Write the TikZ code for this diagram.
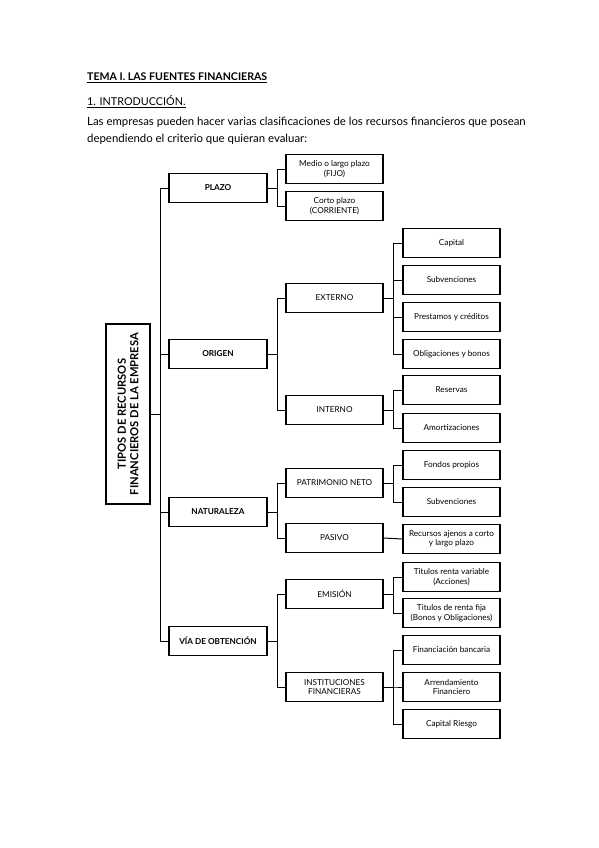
\documentclass[tikz,border=0pt]{standalone}
\usepackage{fontspec}
\setmainfont{Lato}
\begin{document}
\begin{tikzpicture}[x=1pt,y=-1pt,
  txt/.style={anchor=west,inner sep=0pt,font=\fontsize{11.4}{12}\selectfont},
  bx/.style={draw,line width=1.2pt,minimum height=29pt,align=center,inner sep=1pt,font=\fontsize{8.2}{9.5}\selectfont},
  lone/.style={bx,minimum width=98pt,font=\fontsize{8.2}{9.5}\selectfont\bfseries},
  ltwo/.style={bx,minimum width=97pt},
  lthree/.style={bx,minimum width=97pt},
  con/.style={line width=1pt}]
\useasboundingbox (0,0) rectangle (599,848);
\node[txt,font=\fontsize{10.6}{12}\selectfont\bfseries] (t1) at (87,78) {\underline{TEMA I. LAS FUENTES FINANCIERAS}};
\node[txt,font=\fontsize{10.8}{12}\selectfont] (t2) at (87,102) {\underline{1. INTRODUCCIÓN.}};
\node[txt] (t3) at (87,122) {Las empresas pueden hacer varias clasificaciones de los recursos financieros que posean};
\node[txt] (t4) at (87,139) {dependiendo el criterio que quieran evaluar:};

\node[draw,line width=1.2pt,rotate=90,minimum width=180pt,minimum height=44pt,align=center,font=\fontsize{11.2}{12.5}\selectfont\bfseries] (main) at (128,414) {TIPOS DE RECURSOS\\FINANCIEROS DE LA EMPRESA};

\node[lone] (plazo) at (218,188) {PLAZO};
\node[lone] (origen) at (218,354) {ORIGEN};
\node[lone] (nat) at (218,512) {NATURALEZA};
\node[lone] (via) at (218,641) {VÍA DE OBTENCIÓN};

\node[ltwo] (medio) at (334.5,169) {Medio o largo plazo\\(FIJO)};
\node[ltwo] (corto) at (334.5,206) {Corto plazo\\(CORRIENTE)};
\node[ltwo] (ext) at (334.5,298) {EXTERNO};
\node[ltwo] (int) at (334.5,410) {INTERNO};
\node[ltwo] (pat) at (334.5,483) {PATRIMONIO NETO};
\node[ltwo] (pas) at (334.5,538) {PASIVO};
\node[ltwo] (emi) at (334.5,594) {EMISIÓN};
\node[ltwo] (inst) at (334.5,687) {INSTITUCIONES\\FINANCIERAS};

\node[lthree] (cap) at (451.5,243) {Capital};
\node[lthree] (sub) at (451.5,280) {Subvenciones};
\node[lthree] (pre) at (451.5,317) {Prestamos y créditos};
\node[lthree] (obl) at (451.5,354) {Obligaciones y bonos};
\node[lthree] (res) at (451.5,390) {Reservas};
\node[lthree] (amo) at (451.5,428) {Amortizaciones};
\node[lthree] (fon) at (451.5,465) {Fondos propios};
\node[lthree] (sub2) at (451.5,502) {Subvenciones};
\node[lthree] (rec) at (451.5,539) {Recursos ajenos a corto\\y largo plazo};
\node[lthree] (trv) at (451.5,577) {Titulos renta variable\\(Acciones)};
\node[lthree] (trf) at (451.5,613) {Titulos de renta fija\\(Bonos y Obligaciones)};
\node[lthree] (fin) at (451.5,650) {Financiación bancaria};
\node[lthree] (arr) at (451.5,687) {Arrendamiento\\Financiero};
\node[lthree] (cr) at (451.5,724) {Capital Riesgo};

\foreach \c in {plazo,origen,nat,via} \draw[con] (main.south) -- ++(10,0) |- (\c.west);
\foreach \c in {medio,corto} \draw[con] (plazo.east) -- ++(10,0) |- (\c.west);
\foreach \c in {ext,int} \draw[con] (origen.east) -- ++(10,0) |- (\c.west);
\foreach \c in {pat,pas} \draw[con] (nat.east) -- ++(10,0) |- (\c.west);
\foreach \c in {emi,inst} \draw[con] (via.east) -- ++(10,0) |- (\c.west);
\foreach \c in {cap,sub,pre,obl} \draw[con] (ext.east) -- ++(10,0) |- (\c.west);
\foreach \c in {res,amo} \draw[con] (int.east) -- ++(10,0) |- (\c.west);
\foreach \c in {fon,sub2} \draw[con] (pat.east) -- ++(10,0) |- (\c.west);
\draw[con] (pas.east) -- (rec.west);
\foreach \c in {trv,trf} \draw[con] (emi.east) -- ++(10,0) |- (\c.west);
\foreach \c in {fin,arr,cr} \draw[con] (inst.east) -- ++(10,0) |- (\c.west);
\end{tikzpicture}
\end{document}
